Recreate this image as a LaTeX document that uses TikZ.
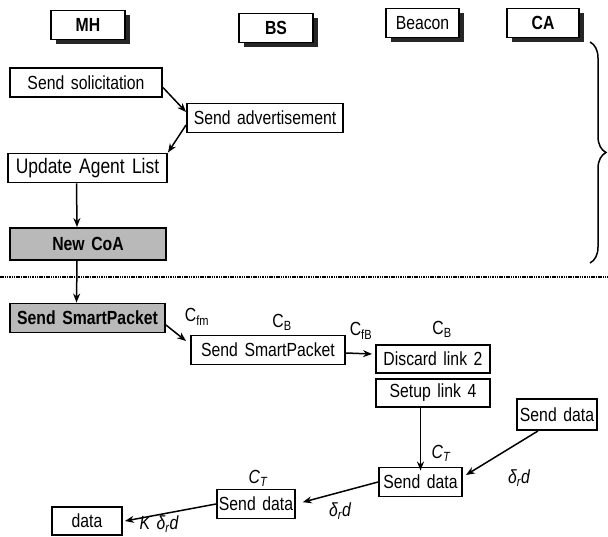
\documentclass[tikz,border=0pt]{standalone}
\usepackage{fontspec}
\setmainfont{Liberation Sans}[FakeStretch=0.83, WordSpace=1.5]
\usetikzlibrary{arrows.meta, shadows, decorations.pathreplacing}

\begin{document}
\begin{tikzpicture}[
    x=1pt, y=-1pt,
    every node/.style={font=\fontsize{19pt}{22pt}\selectfont},
    hdr/.style={rectangle, draw=black, line width=1.3pt, fill=white, minimum height=29pt, inner sep=2pt,
                drop shadow={shadow xshift=5pt, shadow yshift=-5pt, fill=black!85, opacity=1}},
    hdrbold/.style={font=\fontsize{19pt}{22pt}\selectfont\bfseries},
    stepbox/.style={rectangle, draw=black, line width=1.9pt, fill=white, minimum height=29pt, inner sep=2pt},
    greybox/.style={stepbox, fill=gray!55, font=\fontsize{19pt}{22pt}\selectfont\bfseries},
    cost/.style={inner sep=0pt, font=\fontsize{19pt}{22pt}\selectfont},
    arrow/.style={-{Stealth[length=9pt, width=7pt]}, line width=1.5pt},
]
\useasboundingbox (0,0) rectangle (608,537);

% lanes
\node[hdr, hdrbold, minimum width=74pt] (mh)  at (88,25)    {MH};
\node[hdr, hdrbold, minimum width=74pt] (bs)  at (276,28)   {BS};
\node[hdr, minimum width=73pt]          (bcn) at (422.5,23) {Beacon};
\node[hdr, hdrbold, minimum width=72pt] (ca)  at (543,23)   {CA};

% agent discovery
\node[stepbox, minimum width=152pt] (sol) at (86,82.5) {Send\ solicitation};
\node[stepbox, minimum width=156pt] (adv) at (265,118) {Send\ advertisement};
\node[stepbox, minimum width=159pt, font=\fontsize{21pt}{24pt}\selectfont] (upd) at (87.5,168) {Update\ Agent\ List};
\node[greybox, minimum width=156pt, minimum height=32pt] (coa) at (88,244) {New\ CoA};

\coordinate (braceTop) at (590,42);
\coordinate (braceBot) at (590,263);
\draw[line width=1.5pt, decorate, decoration={brace, amplitude=16pt}] (braceTop) -- (braceBot);

\coordinate (sepL) at (0,277);
\coordinate (sepR) at (608,277);
\draw[line width=1.6pt, dash pattern=on 1.5pt off 0.8pt] (sepL) -- (sepR);

% handoff
\node[greybox, minimum width=155pt] (sp1) at (87.5,318) {Send\ SmartPacket};
\node[stepbox, minimum width=154pt] (sp2) at (268,350)  {Send\ SmartPacket};
\node[stepbox, minimum width=114pt, minimum height=28pt] (dis) at (433,359) {Discard\ link 2};
\node[stepbox, minimum width=114pt, minimum height=28pt] (set) at (433,393) {Setup\ link 4};
\node[stepbox, minimum width=80pt, minimum height=31pt] (sdr) at (557,414.5) {Send data};
\node[stepbox, minimum width=83pt] (sdm) at (420.5,482) {Send data};
\node[stepbox, minimum width=78pt] (sdl) at (256,504)   {Send data};
\node[stepbox, minimum width=70pt, minimum height=28pt] (dat) at (87,521) {data};

% costs
\node[cost] (cfm)  at (197,317) {C\textsubscript{fm}};
\node[cost] (cb1)  at (282,322) {C\textsubscript{B}};
\node[cost] (cfb)  at (361,331) {C\textsubscript{fB}};
\node[cost] (cb2)  at (442,329) {C\textsubscript{B}};
\node[cost] (ct1)  at (441,453) {\itshape C\textsubscript{T}};
\node[cost] (dr1)  at (519,478) {\itshape δ\textsubscript{r}d};
\node[cost] (dr2)  at (340,511) {\itshape δ\textsubscript{r}d};
\node[cost] (ct2)  at (258,478) {\itshape C\textsubscript{T}};
\node[cost] (kdr)  at (159,524) {\itshape K δ\textsubscript{r}d};

\draw[arrow] ([yshift=-5pt]sol.east) -- ([yshift=6pt]adv.west);
\draw[arrow] ([yshift=-7pt]adv.west) -- (upd.north east);
\draw[arrow] ([xshift=-11pt]upd.south) -- ([xshift=-11pt]coa.north);
\draw[arrow] ([xshift=-11pt]coa.south) -- ([xshift=-11pt]sp1.north);
\draw[arrow] ([yshift=-7pt]sp1.east) -- ([xshift=-4pt, yshift=9pt]sp2.west);
\draw[arrow] ([yshift=-3pt]sp2.east) -- ([xshift=-3pt, yshift=5pt]dis.west);
\draw[arrow] (set.south -| sdm.north) -- ([yshift=-4pt]sdm.north);
\draw[arrow] ([xshift=-19pt]sdr.south) -- ([xshift=3pt, yshift=7pt]sdm.east);
\draw[arrow, shorten >=7pt] (sdm.west) -- (sdl.east);
\draw[arrow] (sdl.west) -- ([xshift=2pt]dat.east);
\end{tikzpicture}
\end{document}
